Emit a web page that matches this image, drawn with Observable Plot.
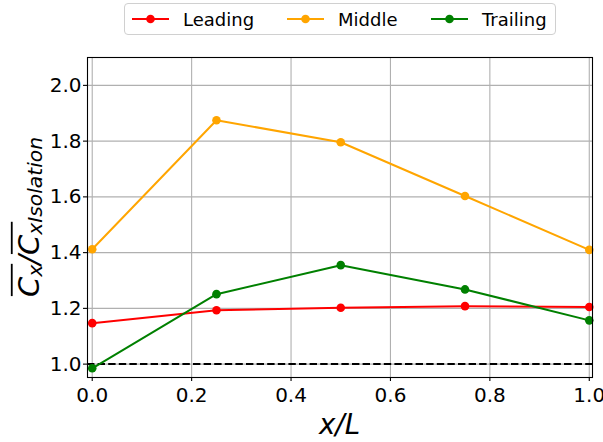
<!DOCTYPE html>
<html>
<head>
<meta charset="utf-8">
<script src="https://cdn.jsdelivr.net/npm/d3@7"></script>
<script src="https://cdn.jsdelivr.net/npm/@observablehq/plot@0.6"></script>
<style>
  html, body { margin: 0; padding: 0; background: white; }
  #wrap { position: relative; width: 603px; height: 442px; overflow: hidden; }
  #legend { position: absolute; left: 124px; top: 3px; width: 430px; height: 30px;
    border: 1px solid #d0d0d0; border-radius: 4px; background: white;
    font-family: "DejaVu Sans", sans-serif; font-size: 18px; color: black; }
  .entry { position: absolute; top: 0; height: 100%; display: flex; align-items: center; }
  .entry svg { display: block; }
</style>
</head>
<body>
<div id="wrap"><div id="legend"></div></div>
<script>
// ---- data ----
const xPos = [0, 0.25, 0.5, 0.75, 1.0];
const seriesNames = ["Leading", "Middle", "Trailing"];
const seriesColors = ["#ff0000", "#ffa500", "#008000"];
const leading = [1.147, 1.193, 1.202, 1.208, 1.205];
const middle = [1.412, 1.875, 1.796, 1.603, 1.410];
const trailing = [0.985, 1.251, 1.355, 1.268, 1.157];
const xTicks = [0, 0.2, 0.4, 0.6, 0.8, 1.0];
const yTicks = [1.0, 1.2, 1.4, 1.6, 1.8, 2.0];
const refLine = [1.0];

const seriesValues = [leading, middle, trailing];
const rows = seriesNames.flatMap((name, i) =>
  xPos.map((x, j) => ({series: name, x, y: seriesValues[i][j]})));

const fmt = d3.format(".1f");

const chart = Plot.plot({
  width: 603,
  height: 442,
  marginLeft: 87,
  marginRight: 11,
  marginTop: 57,
  marginBottom: 65,
  style: {fontFamily: "DejaVu Sans", fontSize: "20px", color: "black", background: "white"},
  x: {domain: [-0.0095, 1.0065]},
  y: {domain: [0.952, 2.1]},
  color: {domain: seriesNames, range: seriesColors},
  marks: [
    Plot.gridX(xTicks, {stroke: "#b0b0b0", strokeOpacity: 1, strokeWidth: 1.1}),
    Plot.gridY(yTicks, {stroke: "#b0b0b0", strokeOpacity: 1, strokeWidth: 1.1}),
    Plot.ruleY(refLine, {stroke: "black", strokeWidth: 2, strokeDasharray: "7.4,3.2"}),
    Plot.line(rows, {x: "x", y: "y", z: "series", stroke: "series", strokeWidth: 2}),
    Plot.dot(rows, {x: "x", y: "y", fill: "series", r: 4.3}),
    Plot.frame({stroke: "black", strokeWidth: 1.1}),
    Plot.axisX(xTicks, {tickFormat: fmt, tickSize: 4, tickPadding: 6.5, label: null, strokeWidth: 1.1}),
    Plot.axisY(yTicks, {tickFormat: fmt, tickSize: 4, tickPadding: 2, label: null, strokeWidth: 1.1})
  ]
});

document.getElementById("wrap").appendChild(chart);
const svg = d3.select(chart);
const xs = chart.scale("x"), ys = chart.scale("y");
const cx = (xs.range[0] + xs.range[1]) / 2;
const cy = (ys.range[0] + ys.range[1]) / 2;

// x label
svg.append("text")
  .attr("x", cx).attr("y", 434)
  .attr("text-anchor", "middle")
  .style("font-family", "DejaVu Sans").style("font-style", "italic")
  .style("font-size", "27.7px").attr("fill", "black")
  .text("x/L");

// y label (mathtext-like)
const fs = 29;
const g = svg.append("g").attr("transform", `translate(39,${cy}) rotate(-90)`);
const t = g.append("text").attr("text-anchor", "middle")
  .style("font-family", "DejaVu Sans").style("font-style", "italic")
  .style("font-size", fs + "px").attr("fill", "black");
const sub = 0.1 * fs;
const parts = [
  {s: "C", dy: 0, small: false},
  {s: "x", dy: sub, small: true},
  {s: "/", dy: -sub, small: false},
  {s: "C", dy: 0, small: false},
  {s: "x", dy: sub, small: true},
  {s: "Isolation", dy: 0, small: true}
];
parts.forEach(p => {
  const ts = t.append("tspan").attr("dy", p.dy).text(p.s);
  if (p.small) ts.style("font-size", (fs * 0.7) + "px");
});
const tn = t.node();
const overlines = [[0, 1], [3, 4]];
overlines.forEach(([a, b]) => {
  const x0 = tn.getStartPositionOfChar(a).x;
  const x1 = tn.getEndPositionOfChar(b).x;
  g.append("rect").attr("x", x0 + 1).attr("y", -0.729 * fs - 7)
    .attr("width", x1 - x0).attr("height", 1.8).attr("fill", "black");
});

// legend
const legend = document.getElementById("legend");
const lineLeft = [7, 162, 306];
const textLeft = [58, 213, 357];
seriesNames.forEach((name, i) => {
  const e = document.createElement("div");
  e.className = "entry";
  e.style.left = lineLeft[i] + "px";
  e.innerHTML = `<svg width="37" height="12"><line x1="0" x2="37" y1="6" y2="6" stroke="${seriesColors[i]}" stroke-width="2"/><circle cx="18.5" cy="6" r="4.3" fill="${seriesColors[i]}"/></svg>`;
  legend.appendChild(e);
  const s = document.createElement("div");
  s.className = "entry";
  s.style.left = textLeft[i] + "px";
  s.textContent = name;
  legend.appendChild(s);
});
</script>
</body>
</html>
